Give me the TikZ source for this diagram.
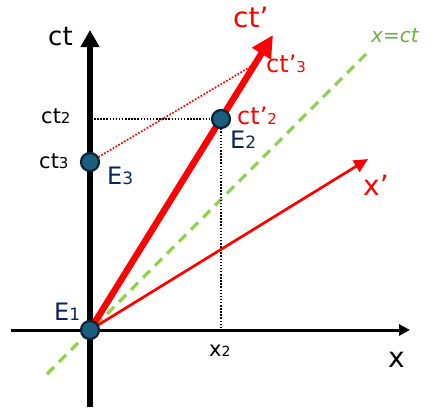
\documentclass[tikz,border=0pt]{standalone}
\usepackage{fontspec}
\setmainfont{DejaVu Sans}
\usetikzlibrary{arrows.meta}
\definecolor{eventfill}{HTML}{1B5E7E}
\definecolor{eventdraw}{HTML}{0A2535}
\definecolor{navy}{HTML}{0C2558}
\definecolor{lightgreen}{HTML}{92D050}
\definecolor{textgreen}{HTML}{6AAE3E}
\newcommand{\fsz}[1]{\fontsize{#1}{#1}\selectfont}
\begin{document}
\begin{tikzpicture}[x=1pt,y=-1pt,
  lbl/.style={inner sep=0pt, anchor=base west},
  event/.style={circle, fill=eventfill, draw=eventdraw, line width=2.2pt, minimum size=18pt, inner sep=0pt},
  blackdots/.style={black, line width=1.5pt, dash pattern=on 1.5pt off 1.6pt},
  reddots/.style={red, line width=1.7pt, dash pattern=on 1.7pt off 1.6pt},
  lightcone/.style={lightgreen, line width=3.2pt, dash pattern=on 10pt off 7pt}
]
\useasboundingbox (0,0) rectangle (443,416);
% coordinates
\coordinate (O) at (90,330);
\coordinate (ctbot) at (90,407);
\coordinate (cttip) at (90,30);
\coordinate (xleft) at (11,330);
\coordinate (xtip) at (410,330);
\coordinate (ctptip) at (273,35);
\coordinate (xptip) at (368,159);
\coordinate (gbot) at (47,374);
\coordinate (gtop) at (368,52);
\coordinate (p2) at (221,119);
\coordinate (p3) at (90,162);
\coordinate (ct2ax) at (94,119);
\coordinate (x2ax) at (221,330);
\coordinate (ct3p) at (255,64);
% light cone
\draw[lightcone] (gbot) -- (gtop);
% axes
\draw[line width=5.5pt, -{Triangle[length=17pt,width=18pt]}] (ctbot) -- (cttip);
\draw[line width=3pt, -{Triangle[length=11pt,width=11pt]}] (xleft) -- (xtip);
% dotted projections
\draw[blackdots] (ct2ax) -- (p2);
\draw[blackdots] (p2) -- (x2ax);
\draw[reddots] (p3) -- (ct3p);
% primed axes
\draw[red, line width=2.7pt, -{Triangle[length=14pt,width=13pt]}] (O) -- (xptip);
\draw[red, line width=6.5pt, -{Triangle[length=22pt,width=21pt]}] (O) -- (ctptip);
% events
\node[event] (E1) at (O) {};
\node[event] (E2) at (p2) {};
\node[event] (E3) at (p3) {};
% labels
\node[lbl] (lct) at (48,45) {\fsz{26pt}ct};
\node[lbl] (lct2) at (41,123) {\fsz{21pt}ct{\fsz{15pt}2}};
\node[lbl] (lct3) at (39,168) {\fsz{21pt}ct{\fsz{15pt}3}};
\node[lbl, text=navy] (lE1) at (54,320) {\fsz{24pt}E{\fsz{17pt}1}};
\node[lbl, text=navy] (lE2) at (230,148) {\fsz{24pt}E{\fsz{17pt}2}};
\node[lbl, text=navy] (lE3) at (107,184) {\fsz{24pt}E{\fsz{17pt}3}};
\node[lbl, text=red] (lctp) at (233,27) {\fsz{28pt}ct’};
\node[lbl, text=red] (lctp2) at (237,124) {\fsz{24pt}ct’{\fsz{15pt}2}};
\node[lbl, text=red] (lctp3) at (266,72) {\fsz{24pt}ct’{\fsz{15pt}3}};
\node[lbl, text=red] (lxp) at (363,195) {\fsz{28pt}x’};
\node[lbl] (lx) at (388,367) {\fsz{28pt}x};
\node[lbl] (lx2) at (209,356) {\fsz{21pt}x{\fsz{14pt}2}};
\node[lbl, text=textgreen] (lxct) at (371,42) {\fsz{20pt}\itshape x=ct};
\end{tikzpicture}
\end{document}
